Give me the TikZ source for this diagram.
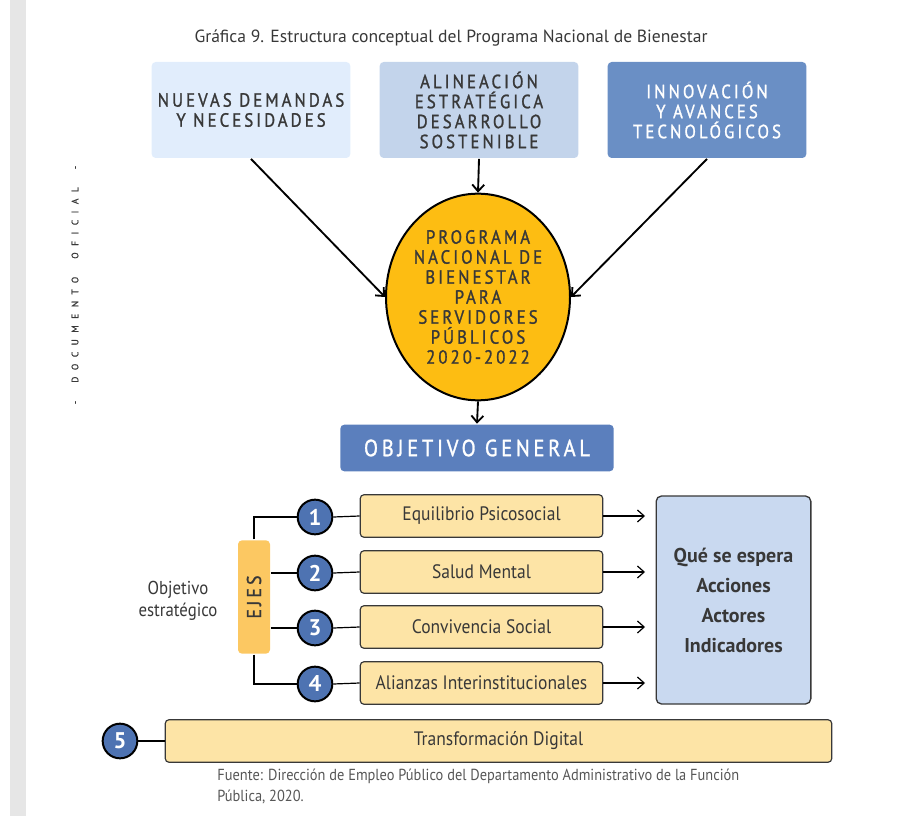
\documentclass[tikz,border=0pt]{standalone}
\usepackage{fontspec}
\setmainfont{PT Sans}
\newfontfamily\capsfont[LetterSpace=16,FakeStretch=0.88,FakeBold=1.2]{PT Sans}
\newfontfamily\docfont[LetterSpace=70,FakeBold=1]{PT Sans}
\newfontfamily\narrowfont[FakeStretch=0.9]{PT Sans}
\usetikzlibrary{shapes.geometric,arrows.meta}
\definecolor{barGray}{HTML}{E6E6E6}
\definecolor{txtDark}{HTML}{383838}
\definecolor{blueA}{HTML}{E1EDFC}
\definecolor{blueB}{HTML}{C3D4EB}
\definecolor{blueC}{HTML}{6A8FC5}
\definecolor{blueD}{HTML}{5B7FBD}
\definecolor{blueN}{HTML}{4E73B2}
\definecolor{blueR}{HTML}{C9D9F0}
\definecolor{goldP}{HTML}{FDBD12}
\definecolor{goldE}{HTML}{FCC862}
\definecolor{peach}{HTML}{FDE4A6}

\begin{document}
\begin{tikzpicture}
  [x=0.75pt,y=-0.75pt,>={Straight Barb[length=5pt,width=9pt]},
   topbox/.style={rectangle,rounded corners=3pt,minimum width=149pt,minimum height=72pt,
     align=center,font=\capsfont\fontsize{14.3}{15}\selectfont,text=txtDark},
   num/.style={circle,draw=black,line width=1.5pt,fill=blueN,minimum size=26pt,inner sep=0pt,
     text=white,font=\bfseries\fontsize{17}{17}\selectfont},
   eje/.style={rectangle,rounded corners=3pt,draw=txtDark,line width=0.9pt,fill=peach,
     minimum width=182pt,minimum height=32pt,text=txtDark,font=\narrowfont\fontsize{14.6}{15}\selectfont},
   every path/.style={line width=1.4pt}]

  \useasboundingbox (0,0) rectangle (902,816);
  \fill[barGray] (10,0) rectangle (26,816);
  \node (doc)[rotate=90,text=txtDark,font=\docfont\fontsize{7}{8}\selectfont] at (75,285)
    {-\ \ DOCUMENTO\ \ OFICIAL\ \ -};

  \node (title)[text=txtDark,font=\fontsize{13.2}{15}\selectfont] at (451,38)
    {Gráfica 9. Estructura conceptual del Programa Nacional de Bienestar};

  % criterios de entrada
  \node (dem)[topbox,fill=blueA] at (251,110) {NUEVAS DEMANDAS\\Y NECESIDADES};
  \node (ali)[topbox,fill=blueB] at (479,110) {ALINEACIÓN\\ESTRATÉGICA\\DESARROLLO\\SOSTENIBLE};
  \node (inn)[topbox,fill=blueC,text=white] at (707,110) {INNOVACIÓN\\Y AVANCES\\TECNOLÓGICOS};

  \node (prog)[ellipse,draw=black,line width=1.5pt,fill=goldP,minimum width=138pt,minimum height=155pt,
    inner sep=0pt,align=center,text=txtDark,font=\capsfont\fontsize{14.3}{15}\selectfont] at (478,297)
    {PROGRAMA\\NACIONAL DE\\BIENESTAR\\PARA\\SERVIDORES\\PÚBLICOS\\2020-2022};

  \node (obj)[rectangle,rounded corners=3pt,fill=blueD,minimum width=205pt,minimum height=35pt,text=white,
    font=\capsfont\fontsize{17.5}{17}\selectfont] at (477,448) {OBJETIVO GENERAL};

  \draw[->] (dem.south) -- (prog.west);
  \draw[->] (ali.south) -- (prog.north);
  \draw[->] (inn.south) -- (prog.east);
  \draw[->] (prog.south) -- (obj.north);

  % ejes
  \node (ejes)[rectangle,rounded corners=3pt,fill=goldE,minimum width=85pt,minimum height=24pt,
    rotate=90,text=txtDark,font=\capsfont\fontsize{15}{15}\selectfont] at (254,597) {EJES};
  \node (oe)[align=center,text=txtDark,font=\narrowfont\fontsize{14}{16.5}\selectfont] at (178,601)
    {Objetivo\\estratégico};

  \node (c1)[num] at (315,517) {1};
  \node (c2)[num] at (315,573) {2};
  \node (c3)[num] at (315,628) {3};
  \node (c4)[num] at (315,684) {4};
  \node (e1)[eje] at (481.5,516) {Equilibrio Psicosocial};
  \node (e2)[eje] at (481.5,572) {Salud Mental};
  \node (e3)[eje] at (481.5,627) {Convivencia Social};
  \node (e4)[eje] at (481.5,683) {Alianzas Interinstitucionales};
  \coordinate (a1) at (645,516);
  \coordinate (a2) at (645,572);
  \coordinate (a3) at (645,627);
  \coordinate (a4) at (645,683);

  \draw[line width=0.9pt] (ejes.east) |- (c1.west);
  \draw[line width=0.9pt] (ejes.west) |- (c4.west);
  \draw[line width=0.9pt] (ejes.south |- c2) -- (c2.west);
  \draw[line width=0.9pt] (ejes.south |- c3) -- (c3.west);

  \foreach \i in {1,2,3,4} {
    \draw[line width=0.9pt] (c\i.east) -- (e\i.west);
    \draw[->,line width=0.9pt] (e\i.east) -- (a\i);
  }

  \node (res)[rectangle,rounded corners=4pt,draw=txtDark,line width=1pt,fill=blueR,minimum width=116pt,
    minimum height=156pt,align=center,text=txtDark,font=\bfseries\fontsize{15}{22.5}\selectfont] at (733.5,600)
    {Qué se espera\\Acciones\\Actores\\Indicadores};

  \node (c5)[num] at (120,741) {5};
  \node (t5)[eje,minimum width=500pt] at (498.5,741) {Transformación Digital};
  \draw[line width=1.5pt] (c5.east) -- (t5.west);

  \node (fuente)[anchor=north west,align=left,text=txtDark!85,font=\narrowfont\fontsize{12}{15.75}\selectfont]
    at (212,764) {Fuente: Dirección de Empleo Público del Departamento Administrativo de la Función\\Pública, 2020.};

\end{tikzpicture}
\end{document}
